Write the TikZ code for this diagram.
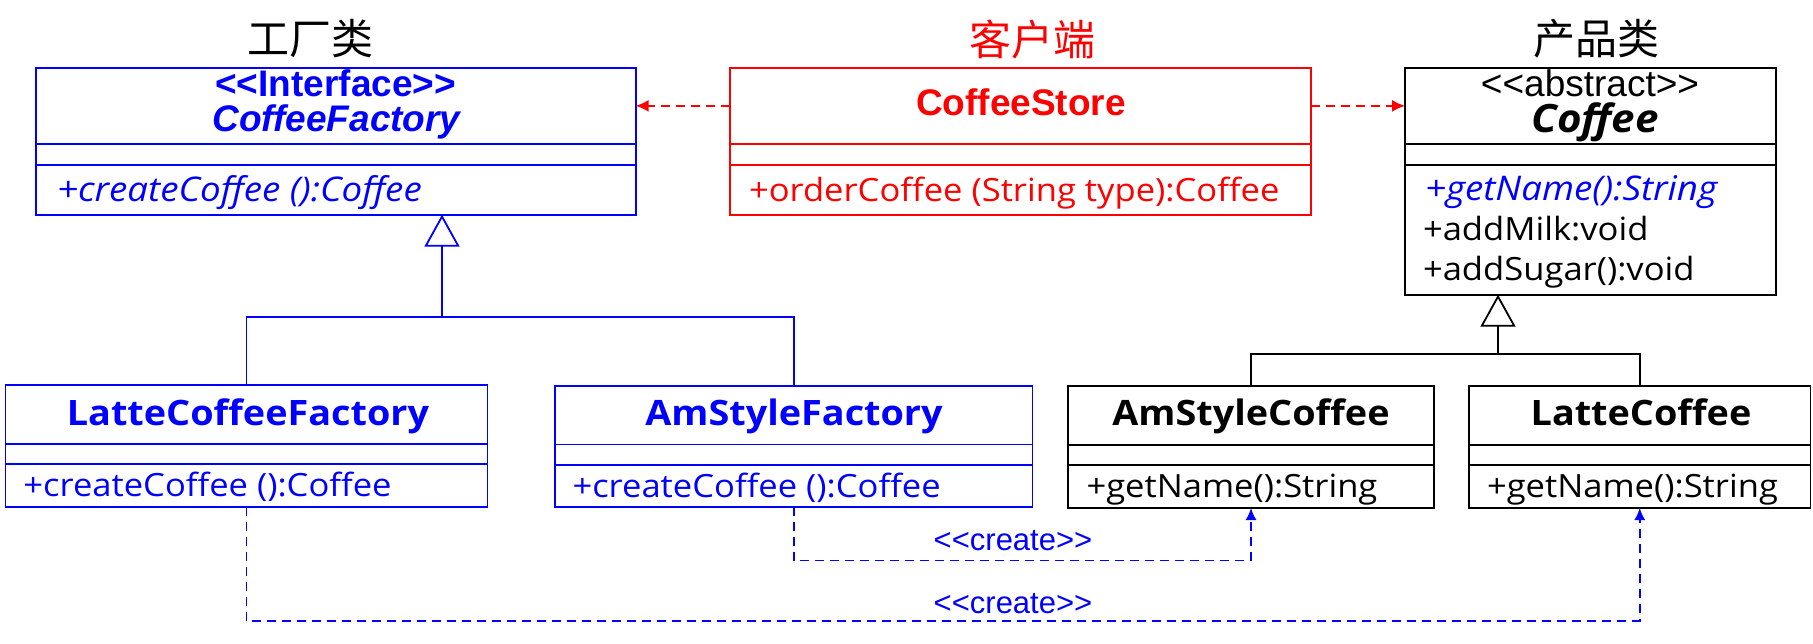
\documentclass[tikz,border=0pt]{standalone}
\usepackage{fontspec}
\usetikzlibrary{arrows.meta}
\newfontfamily\af{Liberation Sans}
\newfontfamily\yf{Open Sans}[FakeStretch=1.08]
\newfontfamily\cjk{Noto Sans CJK SC}
\definecolor{ub}{RGB}{0,0,255}
\definecolor{ur}{RGB}{255,0,0}
\newcommand\dlt{<\kern0pt<}
\newcommand\dgt{>\kern0pt>}
\newcommand\umlclass[8]{%
  \node[cmp, draw=#2, minimum width={#4-#3}, minimum height={#6-#5}] (#1h) at (#3,#5) {};
  \node[cmp, draw=#2, minimum width={#4-#3}, minimum height={#7-#6}] (#1a) at (#3,#6) {};
  \node[cmp, draw=#2, minimum width={#4-#3}, minimum height={#8-#7}] (#1o) at (#3,#7) {};
}
\begin{document}
\begin{tikzpicture}[x=1pt,y=-1pt,
  cmp/.style={rectangle, line width=1.8pt, inner sep=0pt, outer sep=0pt, anchor=north west},
  txt/.style={inner sep=0pt, outer sep=0pt},
  ttl/.style={txt, anchor=base, font=\af\bfseries\fontsize{37}{40}\selectfont},
  cname/.style={txt, anchor=base, font=\yf\bfseries\fontsize{35}{38}\selectfont},
  meth/.style={txt, anchor=base west, font=\yf\fontsize{32}{36}\selectfont},
  imeth/.style={meth, font=\yf\itshape\fontsize{34}{38}\selectfont},
  cjkt/.style={txt, anchor=center, font=\cjk\fontsize{42}{46}\selectfont},
  depline/.style={draw=ur, line width=1.6pt, dash pattern=on 9pt off 6pt, -{Latex[length=13pt,width=12pt]}},
  genline/.style={draw=#1, line width=1.8pt},
  gentip/.style={draw=#1, line width=1.8pt, -{Triangle[open,fill=white,length=32pt,width=35pt]}},
  createline/.style={draw=ub, line width=1.6pt, dash pattern=on 9pt off 6pt, -{Latex[length=12pt,width=11pt]}},
  clab/.style={txt, text=ub, font=\af\fontsize{31}{34}\selectfont}
]
\fill[white] (0,0) rectangle (1813,643);
\useasboundingbox (0,0) rectangle (1813,643);

% titles
\node[cjkt] (t1) at (310,39) {工厂类};
\node[cjkt, text=ur] (t2) at (1032.6,39) {客户端};
\node[cjkt] (t3) at (1596.7,39) {产品类};

% classes
\umlclass{cf}{ub}{35.7}{635.7}{67.7}{144}{164.7}{214.7}
\umlclass{cs}{ur}{729.8}{1311}{67.7}{144}{164.7}{214.7}
\umlclass{co}{black}{1405}{1776}{67.7}{144}{164.7}{294.7}
\umlclass{lcf}{ub}{5.4}{487.5}{385}{444}{464}{507}
\umlclass{acf}{ub}{555}{1032.5}{386}{444.5}{465}{507}
\umlclass{asc}{black}{1068}{1434}{386}{445}{465}{508}
\umlclass{lco}{black}{1469}{1810.5}{386}{445}{465}{508}

% CoffeeFactory
\node[ttl, text=ub] (cf1) at (335.7,96.5) {\dlt Interface\dgt};
\node[ttl, text=ub, font=\af\bfseries\itshape\fontsize{37}{40}\selectfont] (cf2) at (336.5,131) {CoffeeFactory};
\node[imeth, text=ub] (cfm) at (57,201.7) {+createCoffee ():Coffee};

% CoffeeStore
\node[ttl, text=ur] (cs1) at (1021,115) {CoffeeStore};
\node[meth, text=ur] (csm) at (749,201) {+orderCoffee (String type):Coffee};

% Coffee
\node[ttl, font=\af\fontsize{37}{40}\selectfont] (co1) at (1590,96.7) {\dlt abstract\dgt};
\node[cname, font=\yf\bfseries\itshape\fontsize{39}{42}\selectfont] (co2) at (1595,132) {Coffee};
\node[imeth, text=ub] (com1) at (1425,200) {+getName():String};
\node[meth] (com2) at (1423,240.7) {+addMilk:void};
\node[meth] (com3) at (1423,280) {+addSugar():void};

% bottom classes
\node[cname, text=ub] (lcf1) at (248,425) {LatteCoffeeFactory};
\node[meth, text=ub] (lcfm) at (23.4,496.7) {+createCoffee ():Coffee};
\node[cname, text=ub] (acf1) at (794,425) {AmStyleFactory};
\node[meth, text=ub] (acfm) at (572.5,497) {+createCoffee ():Coffee};
\node[cname] (asc1) at (1251,425) {AmStyleCoffee};
\node[meth] (ascm) at (1086.5,497) {+getName():String};
\node[cname] (lco1) at (1641,425) {LatteCoffee};
\node[meth] (lcom) at (1487,497) {+getName():String};

% dependencies (red)
\draw[depline] (csh.west) -- (cfh.east);
\draw[depline] (csh.east) -- (coh.west);

% generalization factories
\coordinate (cfj) at (442,316.7);
\draw[genline=ub] (lcfh.north) |- (cfj) -| (acfh.north);
\draw[gentip=ub] (cfj) -- (cfj |- cfo.south);

% generalization products
\coordinate (coj) at (1498,354.3);
\draw[genline=black] (asch.north) |- (coj) -| (lcoh.north);
\draw[gentip=black] (coj) -- (coj |- coo.south);

% create dependencies
\draw[createline] (acfo.south) -- ++(0,53.5) -| (asco.south);
\draw[createline] (lcfo.south) -- ++(0,114) -| (lcoo.south);
\node[clab] (lab1) at (1013,541) {\dlt create\dgt};
\node[clab] (lab2) at (1013,604) {\dlt create\dgt};
\end{tikzpicture}
\end{document}
